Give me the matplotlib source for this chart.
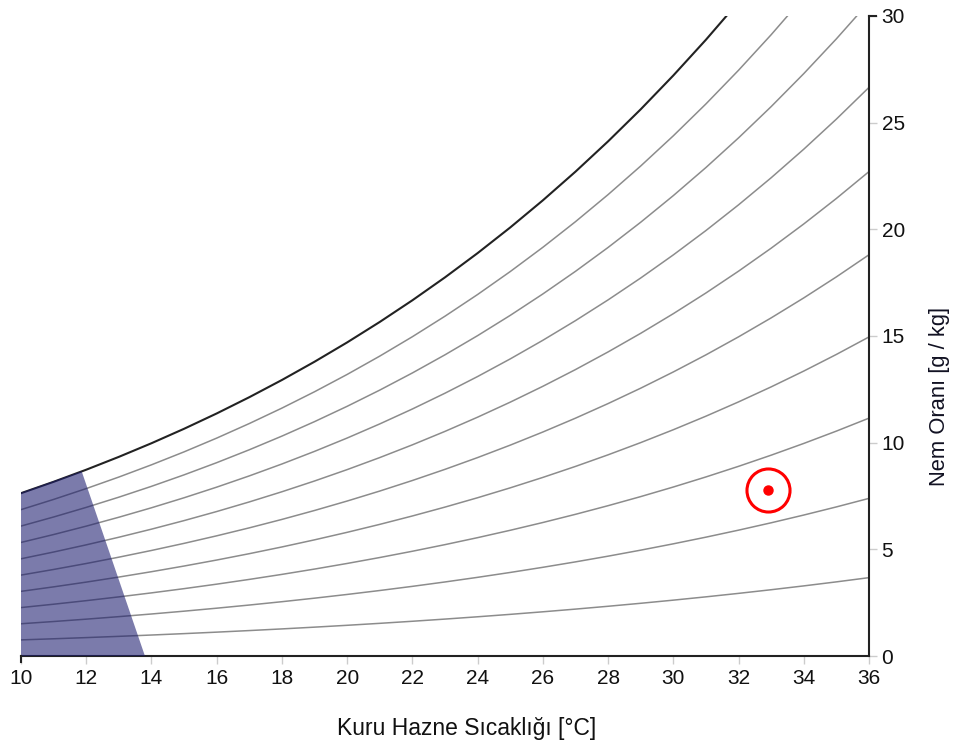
import numpy as np
import matplotlib
matplotlib.use("Agg")
import matplotlib.pyplot as plt

# ------------------------------------------------------
# Datos del diagrama psicrométrico
# ------------------------------------------------------
temps = list(range(10, 37))  # °C
# presión de vapor de saturación [kPa] para cada temperatura
p_sat = [1.2282, 1.3130, 1.4028, 1.4981, 1.5990, 1.7058, 1.8188, 1.9384,
         2.0647, 2.1983, 2.3393, 2.4882, 2.6453, 2.8111, 2.9858, 3.1699,
         3.3639, 3.5681, 3.7831, 4.0092, 4.2470, 4.4969, 4.7596, 5.0354,
         5.3251, 5.6290, 5.9479]
rh_levels = [0.1, 0.2, 0.3, 0.4, 0.5, 0.6, 0.7, 0.8, 0.9, 1.0]
p_atm = 101.325

# zona sombreada (temperatura, nem oranı g/kg)
zone_t = [10.0, 10.0, 11.0, 11.86, 13.8]
zone_w = [0.0, 7.66, 8.20, 8.66, 0.0]

# punto actual
point_t = 32.9
point_w = 7.8

x_ticks = list(range(10, 37, 2))
y_ticks = [0, 5, 10, 15, 20, 25, 30]

plt.rcParams["font.family"] = ["Liberation Sans", "DejaVu Sans"]

fig = plt.figure(figsize=(9.58, 7.49), dpi=100)
ax = fig.add_axes([21 / 958, 93 / 749, 848 / 958, 640 / 749])

t = np.array(temps, dtype=float)
ps = np.array(p_sat)
for rh in rh_levels:
    pv = rh * ps
    w = 622.0 * pv / (p_atm - pv)
    if rh == 1.0:
        ax.plot(t, w, color="#222222", lw=1.5, zorder=3)
    else:
        ax.plot(t, w, color="#8c8c8c", lw=1.1, zorder=2)

ax.fill(zone_t, zone_w, color="#1c1c6e", alpha=0.58, lw=0, zorder=4)

ax.plot(point_t, point_w, "o", ms=31, mfc="none", mec="#ff0000", mew=2.2, zorder=5)
ax.plot(point_t, point_w, "o", ms=6.5, color="#ff0000", zorder=5)

ax.set_xlim(10, 36)
ax.set_ylim(0, 30)
ax.set_xticks(x_ticks)
ax.set_yticks(y_ticks)

for s in ["top", "left"]:
    ax.spines[s].set_visible(False)
ax.spines["bottom"].set_color("#222222")
ax.spines["right"].set_color("#222222")
ax.spines["bottom"].set_linewidth(1.5)
ax.spines["right"].set_linewidth(1.5)

ax.yaxis.tick_right()
ax.tick_params(axis="both", colors="#cccccc", labelcolor="#111111",
               labelsize=15, length=6, width=1)
ax.tick_params(axis="x", pad=3)
ax.tick_params(axis="y", pad=3)

# títulos de ejes
fig.text(467 / 958, 1 - 728 / 749, "Kuru Hazne Sıcaklığı [°C]", fontsize=16.5,
         color="#111111", ha="center", va="center")
fig.text(940 / 958, 1 - 396 / 749, "Nem Oranı [g / kg]", fontsize=15.8,
         color="#111122", ha="center", va="center", rotation=90)

# extremos del eje (estilo d3)
ax.plot([10, 10], [0, -0.3], color="#222222", lw=1.5, clip_on=False, zorder=6)
ax.plot([36, 36.2], [30, 30], color="#222222", lw=1.5, clip_on=False, zorder=6)

fig.savefig("out.png", dpi=100)
